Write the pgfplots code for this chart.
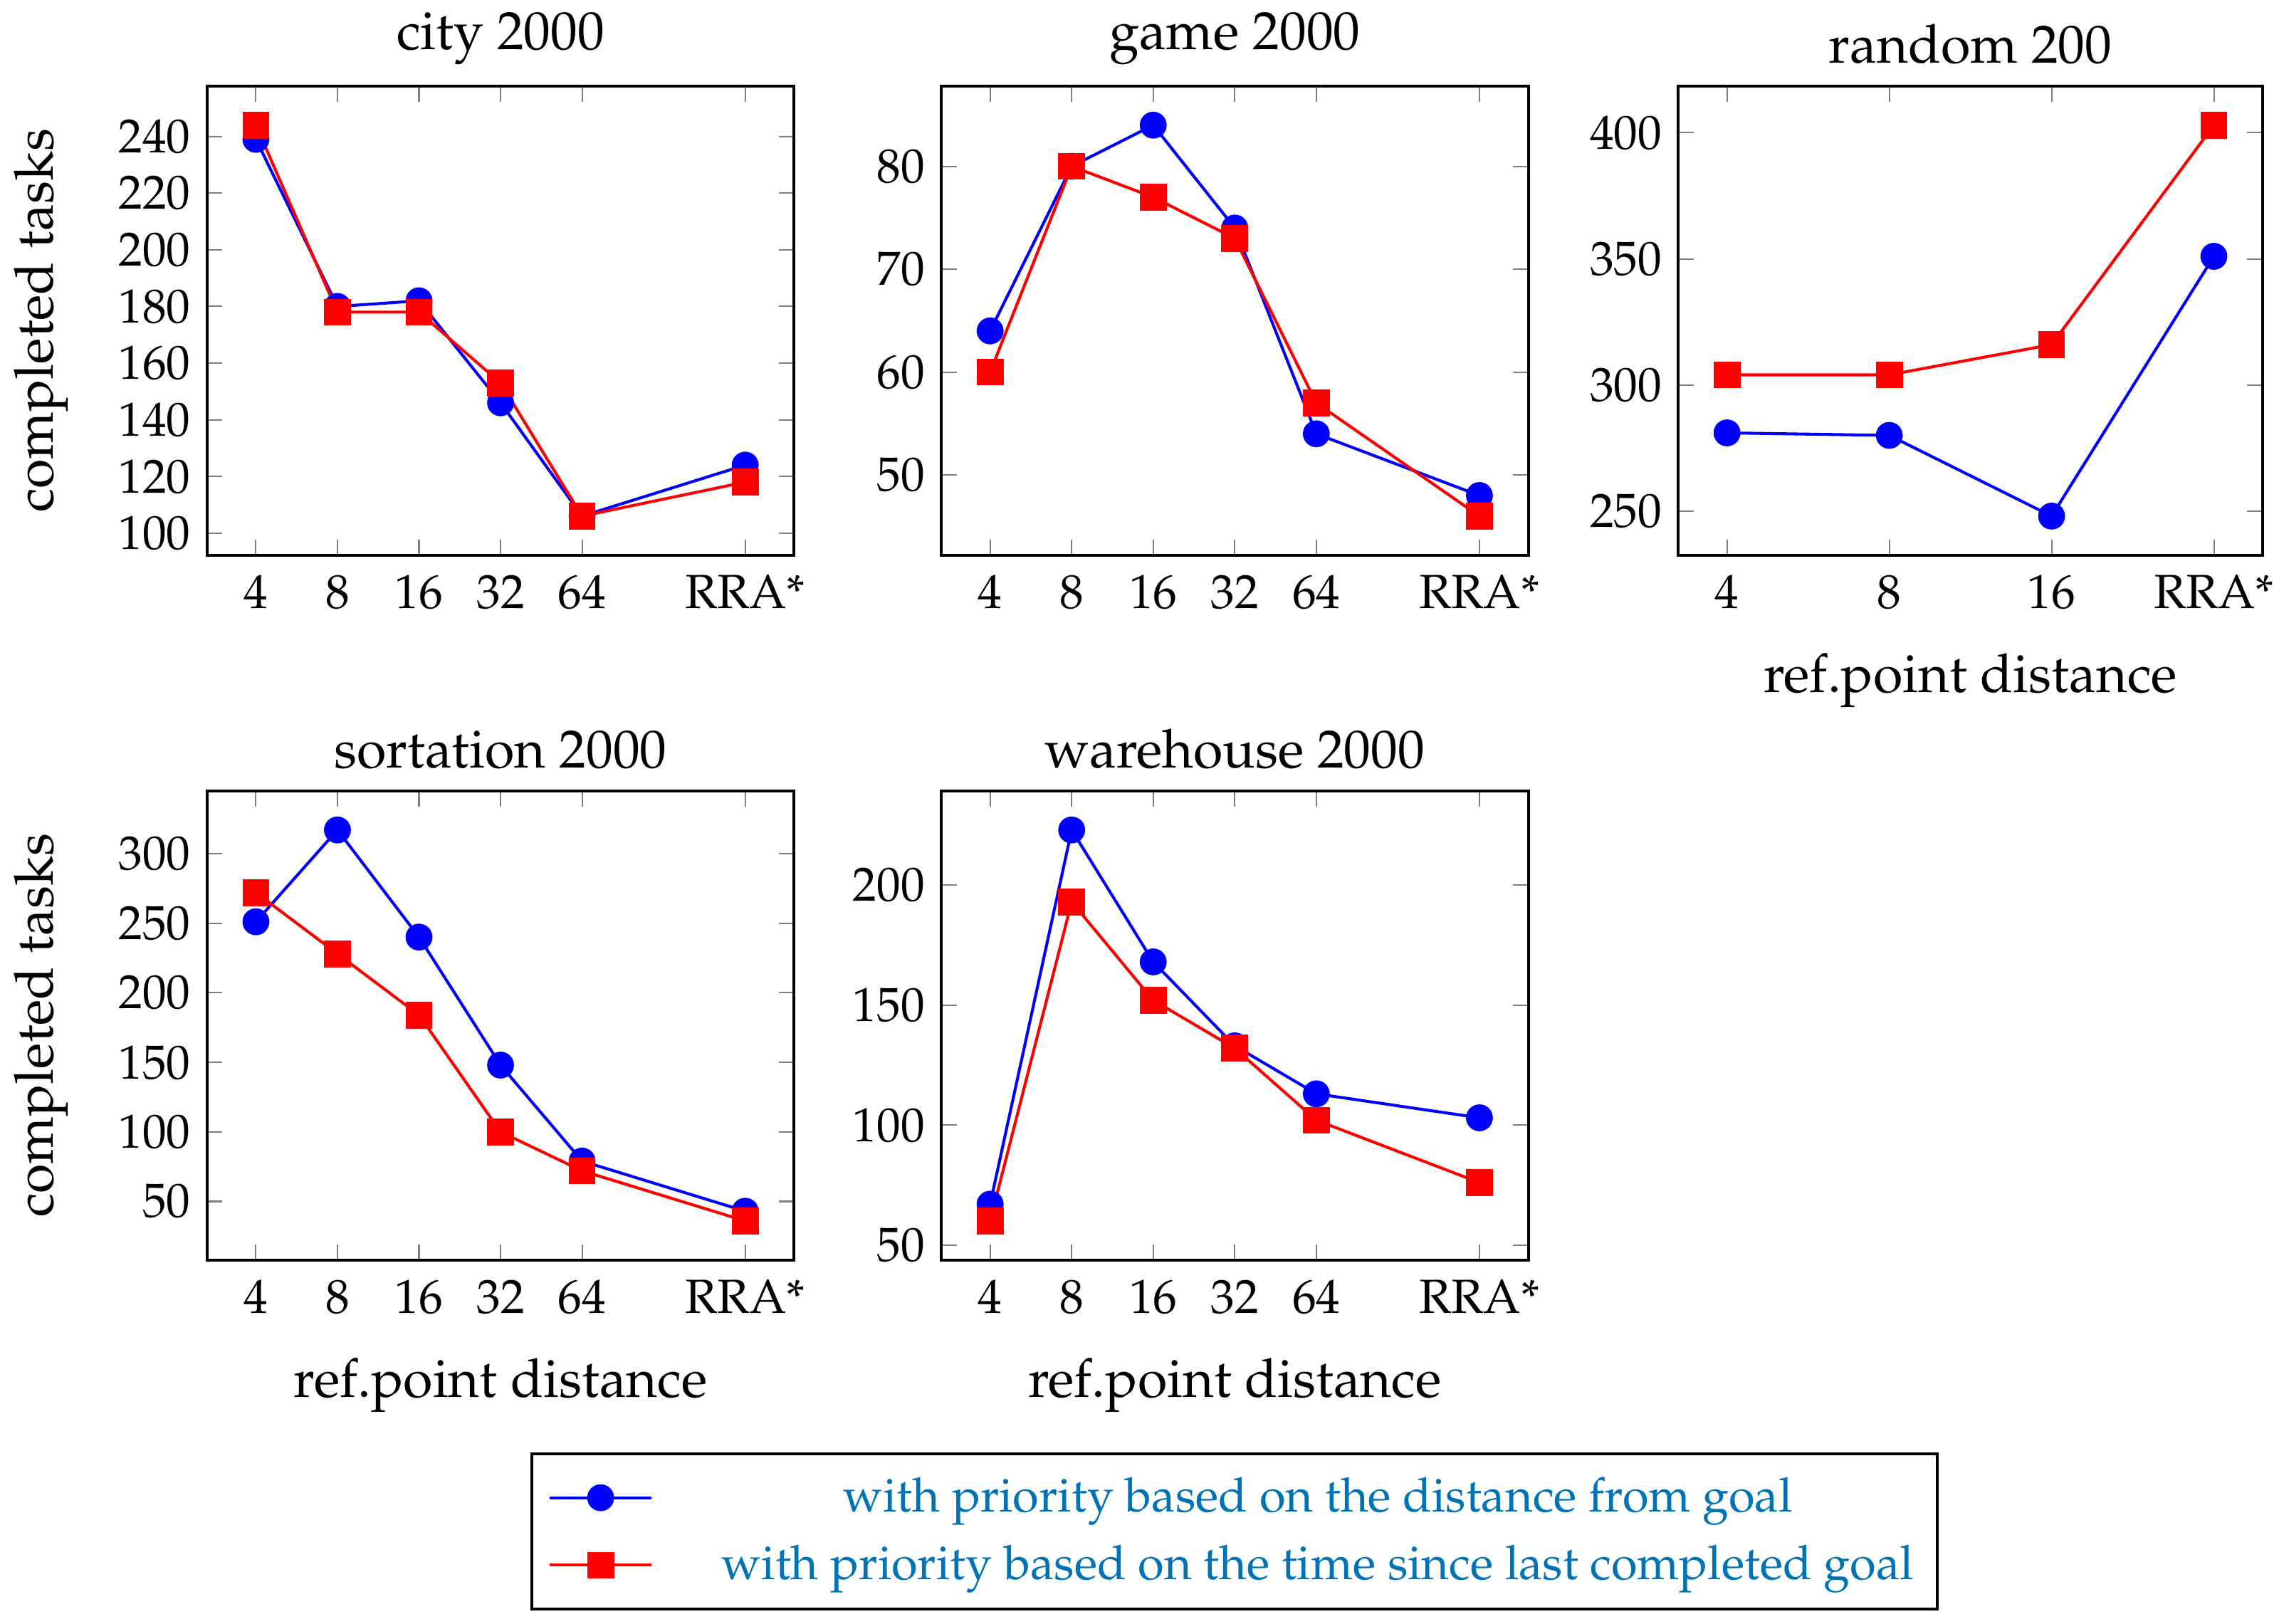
\documentclass[border=0pt]{standalone}
\usepackage[T1]{fontenc}
\usepackage{mathpazo}
\usepackage{pgfplots}
\pgfplotsset{compat=1.18}
\definecolor{legblue}{RGB}{0,114,182}
\newcommand{\bigf}{\fontsize{14.8}{17}\selectfont}
\newcommand{\tickf}{\fontsize{13.2}{15}\selectfont}
\newcommand{\legf}{\fontsize{13.1}{15}\selectfont}
\pgfplotsset{
  myax/.style={
    scale only axis, width=161.7pt, height=129.2pt, anchor=north west,
    axis line style={thick, black},
    major tick style={gray, line width=0.4pt},
    xtick={0,1,2,3,4,6}, xticklabels={4,8,16,32,64,RRA*},
    enlargelimits=0.1,
    title style={font=\bigf, yshift=-3.6pt},
    label style={font=\bigf},
    xlabel style={yshift=-5.2pt},
    ylabel style={yshift=7pt},
    tick label style={font=\tickf},
    xticklabel style={yshift=-2pt},
    yticklabel style={xshift=-1pt},
  },
  bl/.style={blue, thick, mark=*, mark size=3.3pt, mark options={solid, fill=blue}},
  rd/.style={red, thick, mark=square*, mark size=3.3pt, mark options={solid, fill=red}},
}
\begin{document}
\begin{tikzpicture}
\useasboundingbox (0,0) rectangle (629pt,-447.1pt);
% city
\begin{axis}[myax, at={(57pt,-23.7pt)}, title={city 2000}, ylabel={completed tasks},
  ytick={100,120,140,160,180,200,220,240}]
\addplot[bl] coordinates {(0,239) (1,180) (2,182) (3,146) (4,106) (6,124)};
\addplot[rd] coordinates {(0,244) (1,178) (2,178) (3,153) (4,106) (6,118)};
\end{axis}
% game
\begin{axis}[myax, at={(259.2pt,-23.7pt)}, title={game 2000},
  ytick={50,60,70,80}]
\addplot[bl] coordinates {(0,64) (1,80) (2,84) (3,74) (4,54) (6,48)};
\addplot[rd] coordinates {(0,60) (1,80) (2,77) (3,73) (4,57) (6,46)};
\end{axis}
% random
\begin{axis}[myax, at={(462.2pt,-23.7pt)}, width=160.9pt, title={random 200},
  xtick={0,1,2,3}, xticklabels={4,8,16,RRA*}, xlabel={ref.point distance},
  ytick={250,300,350,400}]
\addplot[bl] coordinates {(0,281) (1,280) (2,248) (3,351)};
\addplot[rd] coordinates {(0,304) (1,304) (2,316) (3,403)};
\end{axis}
% sortation
\begin{axis}[myax, at={(57pt,-217.8pt)}, title={sortation 2000}, ylabel={completed tasks},
  xlabel={ref.point distance}, ytick={50,100,150,200,250,300}]
\addplot[bl] coordinates {(0,251) (1,317) (2,240) (3,148) (4,79) (6,43)};
\addplot[rd] coordinates {(0,272) (1,228) (2,184) (3,100) (4,72) (6,36)};
\end{axis}
% warehouse
\begin{axis}[myax, at={(259.2pt,-217.8pt)}, title={warehouse 2000},
  xlabel={ref.point distance}, ytick={50,100,150,200},
  legend style={at={(0.5,-0.41)}, anchor=north, draw=black, thick,
    font=\legf, text=legblue, column sep=17pt, row sep=3.6pt,
    inner xsep=4.5pt, inner ysep=4.6pt},
  legend cell align=center,
  legend image code/.code={\draw[mark repeat=2,mark phase=2] plot coordinates {(0pt,0pt) (14pt,0pt) (28pt,0pt)};}]
\addplot[bl] coordinates {(0,67) (1,223) (2,168) (3,133) (4,113) (6,103)};
\addlegendentry{with priority based on the distance from goal}
\addplot[rd] coordinates {(0,60) (1,193) (2,152) (3,132) (4,102) (6,76)};
\addlegendentry{with priority based on the time since last completed goal}
\end{axis}
\end{tikzpicture}
\end{document}
